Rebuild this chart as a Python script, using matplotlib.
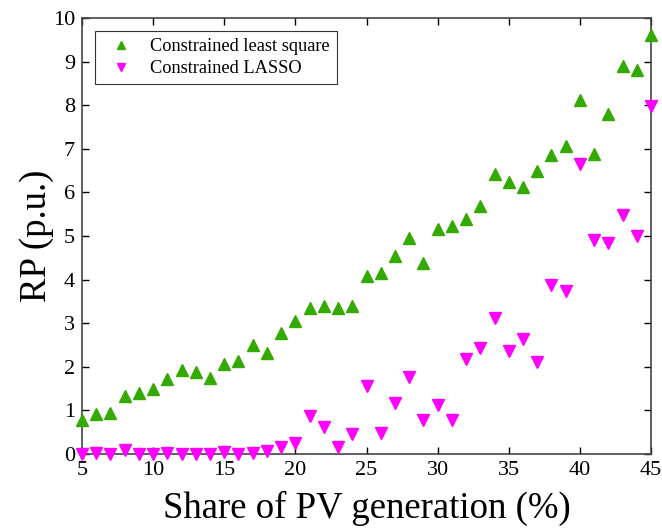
import matplotlib
matplotlib.use("Agg")
import matplotlib.pyplot as plt

share = list(range(5, 46))
rp_ls = [0.78, 0.92, 0.94, 1.33, 1.40, 1.48, 1.72, 1.93, 1.87, 1.75,
         2.07, 2.13, 2.49, 2.32, 2.77, 3.04, 3.34, 3.39, 3.35, 3.39,
         4.08, 4.14, 4.53, 4.96, 4.39, 5.15, 5.22, 5.38, 5.68, 6.43,
         6.25, 6.13, 6.49, 6.86, 7.06, 8.12, 6.88, 7.79, 8.90, 8.81, 9.60]
rp_lasso = [0.00, 0.03, 0.00, 0.09, 0.00, 0.00, 0.03, 0.00, 0.00, 0.00,
            0.04, 0.00, 0.03, 0.08, 0.15, 0.26, 0.88, 0.63, 0.16, 0.45,
            1.57, 0.48, 1.17, 1.77, 0.77, 1.12, 0.77, 2.17, 2.43, 3.12,
            2.37, 2.64, 2.10, 3.88, 3.73, 6.65, 4.91, 4.85, 5.49, 5.00, 7.99]
x_ticks = [5, 10, 15, 20, 25, 30, 35, 40, 45]
y_ticks = list(range(0, 11))

plt.rcParams['font.family'] = ['Liberation Serif', 'DejaVu Serif']

fig = plt.figure(figsize=(6.62, 5.29), dpi=100)
ax = fig.add_axes([82 / 662, 1 - 454 / 529, (651 - 82) / 662, (454 - 18) / 529])

ax.plot(share, rp_ls, linestyle='none', marker='^', ms=8, color='#33aa00',
        mec='#33aa00', label='Constrained least square', clip_on=False, zorder=3)
ax.plot(share, rp_lasso, linestyle='none', marker='v', ms=8, color='#ff00ff',
        mec='#ff00ff', label='Constrained LASSO', clip_on=False, zorder=3)

ax.set_xlim(5, 45)
ax.set_ylim(0, 10)
ax.set_xticks(x_ticks)
ax.set_yticks(y_ticks)
ax.tick_params(direction='in', top=True, right=True, labelsize=16,
               length=5, width=1, pad=5)
for s in ax.spines.values():
    s.set_linewidth(1.2)
    s.set_color('#444444')

ax.set_xlabel('Share of PV generation (%)', fontsize=26.5, labelpad=8)
ax.set_ylabel('RP (p.u.)', fontsize=26.5, labelpad=-1)

leg = ax.legend(loc='upper left', bbox_to_anchor=(0.023, 0.97), borderaxespad=0,
                fontsize=13.2, fancybox=False, framealpha=1, edgecolor='#333333',
                handletextpad=0.6, borderpad=0.4, labelspacing=0.25,
                handlelength=2.0, markerscale=0.75)
leg.get_frame().set_linewidth(0.8)

fig.savefig('out.png', dpi=100)
